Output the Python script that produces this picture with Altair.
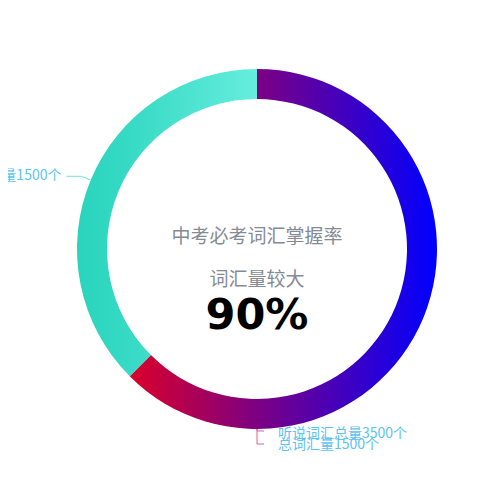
import math

import altair as alt
import pandas as pd

# ring slices (clockwise from 12 o'clock)
ring_keys = ["heard", "total"]
ring_values = [2500, 1500]

# leader labels
side_label = "总词汇量1500个"
bottom_labels = ["听说词汇总量3500个", "总词汇量1500个"]

# centre text
center_texts = ["中考必考词汇掌握率", "词汇量较大"]
center_value = "90%"

# layout (pixels, relative to the ring centre, y up)
W, H = 484, 460
CX, CY = 249, 241          # ring centre inside the plot area
R_IN, R_OUT = 150, 180
center_text_y = [12, -31]
center_value_y = -67
bottom_drop = [2, 15]
bottom_text_shift = [-3, -1]

CJK = "Noto Sans CJK SC"
LABEL_BLUE = "#5cc3f3"

purple_fill = {
    "gradient": "linear", "x1": 0, "y1": 0, "x2": 1, "y2": 0,
    "stops": [
        {"offset": 0, "color": "#da002a"},
        {"offset": 0.41, "color": "#7e0082"},
        {"offset": 1, "color": "#0000ff"},
    ],
}
teal_fill = {
    "gradient": "linear", "x1": 0, "y1": 0, "x2": 1, "y2": 0,
    "stops": [
        {"offset": 0, "color": "#29d4bc"},
        {"offset": 0.3, "color": "#37dac5"},
        {"offset": 1, "color": "#66eddd"},
    ],
}
bracket_stroke = {
    "gradient": "linear", "x1": 0, "y1": 0, "x2": 1, "y2": 0,
    "stops": [
        {"offset": 0, "color": "#e8607e"},
        {"offset": 1, "color": "#9f72ea"},
    ],
}

total = sum(ring_values)
ends = pd.Series(ring_values).cumsum()
ring_df = pd.DataFrame({
    "key": ring_keys,
    "start": ends - pd.Series(ring_values),
    "end": ends,
})


def polar(r, frac):
    a = frac * 2 * math.pi
    return r * math.sin(a), r * math.cos(a)


# side leader: from the middle of the second slice
mid = (ring_df.loc[1, "start"] + ring_df.loc[1, "end"]) / 2 / total
p0 = polar(R_OUT, mid)
p1 = polar(R_OUT + 10, mid)
p2 = (p1[0] - 15, p1[1])
side_line = pd.DataFrame({"i": [0, 1, 2], "x": [p0[0], p1[0], p2[0]], "y": [p0[1], p1[1], p2[1]]})
side_text = pd.DataFrame({"x": [p2[0] - 5], "y": [p2[1]], "t": [side_label]})

# bottom leaders: anchored at the bottom of the ring
b0 = polar(R_OUT, 0.5)
rows, trows = [], []
for k, (lab, d, s) in enumerate(zip(bottom_labels, bottom_drop, bottom_text_shift)):
    yy = b0[1] - d
    rows += [
        {"line": k, "i": 0, "x": b0[0], "y": b0[1]},
        {"line": k, "i": 1, "x": b0[0], "y": yy},
        {"line": k, "i": 2, "x": b0[0] + 7, "y": yy},
    ]
    trows.append({"x": b0[0] + 21, "y": yy + s, "t": lab})
bottom_line = pd.DataFrame(rows)
bottom_text = pd.DataFrame(trows)

center_df = pd.DataFrame({"x": [0, 0], "y": center_text_y, "t": center_texts})
value_df = pd.DataFrame({"x": [0], "y": [center_value_y], "t": [center_value]})

theta_scale = alt.Scale(domain=[0, total], range=[0, 2 * math.pi])
xs = alt.Scale(domain=[-CX, W - CX], nice=False, zero=False)
ys = alt.Scale(domain=[-(H - CY), CY], nice=False, zero=False)
X = alt.X("x:Q", scale=xs, axis=None)
Y = alt.Y("y:Q", scale=ys, axis=None)


def slice_arc(key, fill):
    return alt.Chart(ring_df).transform_filter(alt.datum.key == key).mark_arc(
        innerRadius=R_IN, outerRadius=R_OUT, color=fill
    ).encode(
        theta=alt.Theta("start:Q", scale=theta_scale, stack=None),
        theta2="end:Q",
        x=alt.XDatum(0, scale=xs, axis=None),
        y=alt.YDatum(0, scale=ys, axis=None),
    )


arcs = slice_arc("heard", purple_fill) + slice_arc("total", teal_fill)

side_leader = alt.Chart(side_line).mark_line(color="#6fe2d2", strokeWidth=1).encode(
    x=X, y=Y, order="i:Q"
)
bottom_leader = alt.Chart(bottom_line).mark_line(color=bracket_stroke, strokeWidth=1).encode(
    x=X, y=Y, detail="line:N", order="i:Q"
)
side_lab = alt.Chart(side_text).mark_text(
    align="right", baseline="middle", font=CJK, fontSize=14, color=LABEL_BLUE
).encode(x=X, y=Y, text="t:N")
bottom_lab = alt.Chart(bottom_text).mark_text(
    align="left", baseline="middle", font=CJK, fontSize=14, color=LABEL_BLUE
).encode(x=X, y=Y, text="t:N")

center = alt.Chart(center_df).mark_text(
    align="center", baseline="middle", font=CJK, fontSize=19, color="#858b95"
).encode(x=X, y=Y, text="t:N")
value = alt.Chart(value_df).mark_text(
    align="center", baseline="middle", font="DejaVu Sans", fontSize=43,
    fontWeight="bold", color="#000000"
).encode(x=X, y=Y, text="t:N")

chart = alt.layer(
    arcs, side_leader, bottom_leader, side_lab, bottom_lab, center, value
).properties(
    width=W,
    height=H,
    padding=0,
    autosize="none",
    background="#ffffff",
).configure_view(stroke=None)

chart.save("out.html", embed_options={"renderer": "svg", "actions": False})
